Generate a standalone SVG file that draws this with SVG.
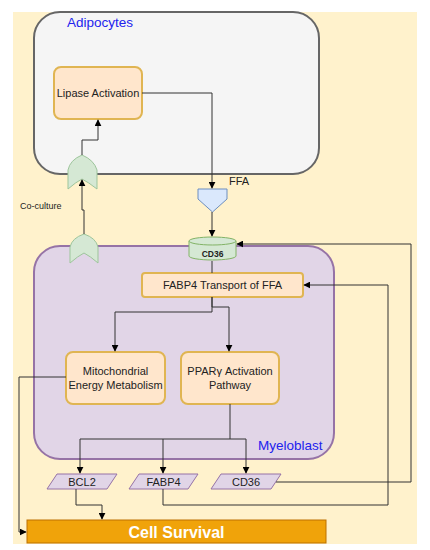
<svg xmlns="http://www.w3.org/2000/svg" width="430" height="550" viewBox="0 0 430 550">
<defs>
<marker id="arr" viewBox="0 0 10 10" refX="9" refY="5" markerWidth="7" markerHeight="7" orient="auto" markerUnits="userSpaceOnUse">
<path d="M0,0 L10,5 L0,10 Z" fill="#000"/>
</marker>
<style>
text{font-family:"Liberation Sans",Arial,sans-serif;}
.proc{fill:#ffe6cc;stroke:#e0b552;stroke-width:2;}
.lbl{font-size:11px;fill:#222;text-anchor:middle;}
.cont{font-size:13.5px;fill:#2222ee;}
.gate{fill:#d5e8d4;stroke:#9dc59b;stroke-width:1;}
.para{fill:#e1d5e7;stroke:#9673a6;stroke-width:1;}
.edge{fill:none;stroke:#333;stroke-width:1;}
</style>
</defs>
<rect x="13" y="12" width="404" height="532" fill="#fff2cc"/>

<g id="adipocytes">
<rect x="34" y="12" width="285" height="162" rx="26" fill="#f5f5f5" stroke="#666" stroke-width="2"/>
<text class="cont" x="67" y="27">Adipocytes</text>
</g>

<g id="myeloblast">
<rect x="34" y="246" width="300" height="213" rx="26" fill="#e1d5e7" stroke="#9673a6" stroke-width="2"/>
<text class="cont" x="258" y="450">Myeloblast</text>
</g>

<g id="lipase">
<rect class="proc" x="54" y="67" width="88" height="52" rx="7"/>
<text class="lbl" x="98" y="97" font-size="10.5">Lipase Activation</text>
</g>

<g id="gate-upper">
<path class="gate" d="M68,189 L68,170 Q70,160 82,155 Q94,160 97,170 L97,189 Q88,182 82,179 Q76,182 68,189 Z"/>
</g>
<g id="gate-lower">
<path class="gate" d="M70,263 L70,247 Q72,238 84,234 Q96,238 98,247 L98,263 Q90,256 84,253 Q78,256 70,263 Z"/>
</g>
<g id="coculture-label"><text x="20" y="209" font-size="9" fill="#222">Co-culture</text></g>

<g id="ffa">
<path d="M198,189 L227,189 L227,199 L212.5,212 L198,199 Z" fill="#dae8fc" stroke="#6c8ebf" stroke-width="1"/>
<text x="229" y="185" font-size="11" fill="#222">FFA</text>
</g>

<g id="cd36-receptor">
<path d="M189,241 L189,256 A23.5,4 0 0 0 236,256 L236,241" fill="#d5e8d4" stroke="#82b366" stroke-width="1"/>
<ellipse cx="212.5" cy="241" rx="23.5" ry="4" fill="#d5e8d4" stroke="#82b366" stroke-width="1"/>
<text x="212.5" y="257" font-size="8.5" font-weight="bold" fill="#222" text-anchor="middle">CD36</text>
</g>

<g id="fabp4-transport">
<rect class="proc" x="142" y="273" width="161" height="24" rx="3"/>
<text class="lbl" x="222.5" y="289">FABP4 Transport of FFA</text>
</g>

<g id="mito">
<rect class="proc" x="66" y="352" width="99" height="52" rx="7"/>
<text class="lbl" x="115.5" y="375">Mitochondrial</text>
<text class="lbl" x="115.5" y="389">Energy Metabolism</text>
</g>

<g id="ppar">
<rect class="proc" x="181" y="352" width="98" height="52" rx="7"/>
<text class="lbl" x="230" y="375">PPARγ Activation</text>
<text class="lbl" x="230" y="389">Pathway</text>
</g>

<g id="bcl2">
<path class="para" d="M57,474 L117,474 L107,489 L47,489 Z"/>
<text class="lbl" x="82" y="486">BCL2</text>
</g>
<g id="fabp4">
<path class="para" d="M139,474 L198,474 L188,489 L129,489 Z"/>
<text class="lbl" x="163.5" y="486">FABP4</text>
</g>
<g id="cd36">
<path class="para" d="M221,474 L281,474 L271,489 L211,489 Z"/>
<text class="lbl" x="246" y="486">CD36</text>
</g>

<g id="cell-survival">
<rect x="27" y="520" width="299" height="23" fill="#f0a30a" stroke="#bd7000" stroke-width="1"/>
<text x="176.5" y="538" font-size="16" font-weight="bold" fill="#fff" text-anchor="middle">Cell Survival</text>
</g>

<g id="connectors">
<path class="edge" d="M142,93 L212,93 L212,188" marker-end="url(#arr)"/>
<path class="edge" d="M82,155 L82,140 L98,140 L98,120" marker-end="url(#arr)"/>
<path class="edge" d="M84,234 L84,210 L82,210 L82,180" marker-end="url(#arr)"/>
<path class="edge" d="M212,212 L212,236" marker-end="url(#arr)"/>
<path class="edge" d="M212,261 L212,273"/>
<path class="edge" d="M212,297 L212,307 L229,307 L229,351" marker-end="url(#arr)"/>
<path class="edge" d="M212,297 L212,312 L115,312 L115,351" marker-end="url(#arr)"/>
<path class="edge" d="M230,404 L230,439"/>
<path class="edge" d="M246,439 L80,439 L80,473" marker-end="url(#arr)"/>
<path class="edge" d="M163,439 L163,473" marker-end="url(#arr)"/>
<path class="edge" d="M246,439 L246,473" marker-end="url(#arr)"/>
<path class="edge" d="M76,489 L76,505 L102,505 L102,519" marker-end="url(#arr)"/>
<path class="edge" d="M66,377 L19,377 L19,532 L26,532" marker-end="url(#arr)"/>
<path class="edge" d="M276,482 L411,482 L411,244 L237,244" marker-end="url(#arr)"/>
<path class="edge" d="M163,489 L163,505 L388,505 L388,285 L304,285" marker-end="url(#arr)"/>
</g>
</svg>
